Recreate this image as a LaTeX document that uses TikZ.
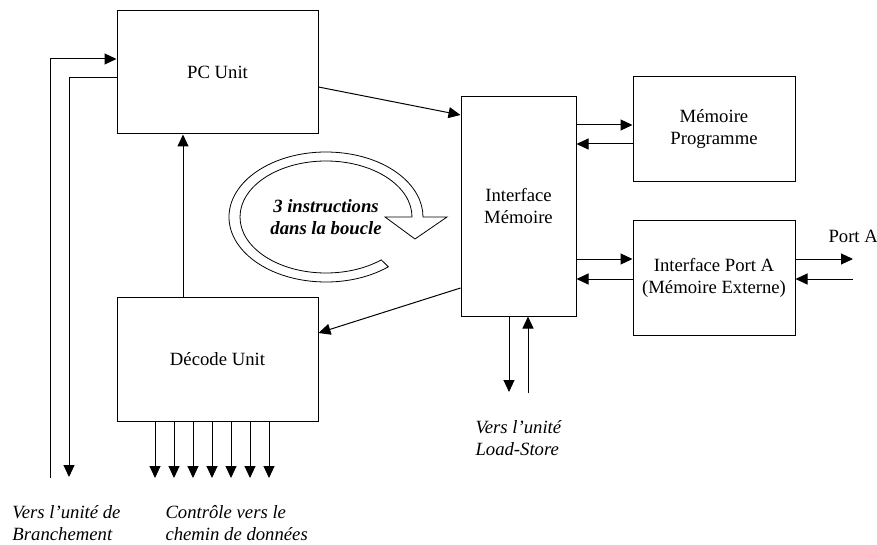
\documentclass[tikz,border=0pt]{standalone}
\usepackage{fontspec}
\setmainfont{Liberation Serif}
\usetikzlibrary{arrows.meta}

\begin{document}
\begin{tikzpicture}[x=1pt,y=1pt,line width=1pt,>={Triangle[length=12pt,width=11pt]}]
\tikzstyle{every node}+=[inner sep=0pt,font=\fontsize{18.7}{22}\selectfont]
\tikzstyle{unit}=[draw,rectangle,align=center]
\tikzstyle{note}=[anchor=north west,align=left,font=\fontsize{18.7}{22}\selectfont\itshape]
\useasboundingbox (0,0) rectangle (877,-545);
\draw (217.5,-72.5) node (pc) [unit,minimum width=201,minimum height=123] {PC Unit};
\draw (217.5,-359) node (dec) [unit,minimum width=201,minimum height=124] {D\'ecode Unit};
\draw (518.5,-206.5) node (im) [unit,minimum width=115,minimum height=219] {Interface\\M\'emoire};
\draw (714,-129.5) node (mp) [unit,minimum width=162,minimum height=105] {M\'emoire\\Programme};
\draw (714,-278) node (pa) [unit,minimum width=162,minimum height=114] {Interface Port A\\(M\'emoire Externe)};
\draw (828,-242) node (porta) [anchor=base west] {Port A};
\draw (12,-505) node (brlab) [note] {Vers l'unit\'e de\\Branchement};
\draw (165,-505) node (ctlab) [note] {Contr\^ole vers le\\chemin de donn\'ees};
\draw (475,-420) node (lslab) [note] {Vers l'unit\'e\\Load-Store};
\coordinate (br1) at (50,-478);
\coordinate (br2) at (69,-477);
\coordinate (ls1) at (509,-392);
\coordinate (ls2) at (528,-393);
\coordinate (pa1) at (853,-259);
\coordinate (pa2) at (853,-279);
\coordinate (c1) at (155,-478);
\coordinate (c2) at (174,-478);
\coordinate (c3) at (193,-478);
\coordinate (c4) at (212,-478);
\coordinate (c5) at (231,-478);
\coordinate (c6) at (250,-478);
\coordinate (c7) at (269,-478);
\draw [->] (pc.east |- 0,-87) -- (im.west |- 0,-115);
\draw [->] (im.west |- 0,-288) -- (dec.east |- 0,-333);
\draw [->] (dec.north -| 183,0) -- (pc.south -| 183,0);
\draw [->] (im.east |- 0,-125) -- (mp.west |- 0,-125);
\draw [->] (mp.west |- 0,-144) -- (im.east |- 0,-144);
\draw [->] (im.east |- 0,-259) -- (pa.west |- 0,-259);
\draw [->] (pa.west |- 0,-279) -- (im.east |- 0,-279);
\draw [->] (pa.east |- pa1) -- (pa1);
\draw [->] (pa2) -- (pa.east |- pa2);
\draw [->] (br1) |- (pc.west |- 0,-59);
\draw [->] (pc.west |- 0,-78) -| (br2);
\draw [->] (im.south -| ls1) -- (ls1);
\draw [->] (ls2) -- (im.south -| ls2);
\draw [->] (dec.south -| c1) -- (c1);
\draw [->] (dec.south -| c2) -- (c2);
\draw [->] (dec.south -| c3) -- (c3);
\draw [->] (dec.south -| c4) -- (c4);
\draw [->] (dec.south -| c5) -- (c5);
\draw [->] (dec.south -| c6) -- (c6);
\draw [->] (dec.south -| c7) -- (c7);
\draw [line width=0.8pt,fill=white] (326,-217) ++(-50:97 and 65)
  arc[start angle=-50,end angle=-360,x radius=97,y radius=65]
  -- (447,-217) -- (415,-239) -- (385,-217) -- (412,-217)
  arc[start angle=0,end angle=310,x radius=86,y radius=56] -- cycle;
\draw (326,-217) node (loop) [align=center,font=\fontsize{18.7}{22}\selectfont\bfseries\itshape] {3 instructions\\dans la boucle};
\end{tikzpicture}
\end{document}
